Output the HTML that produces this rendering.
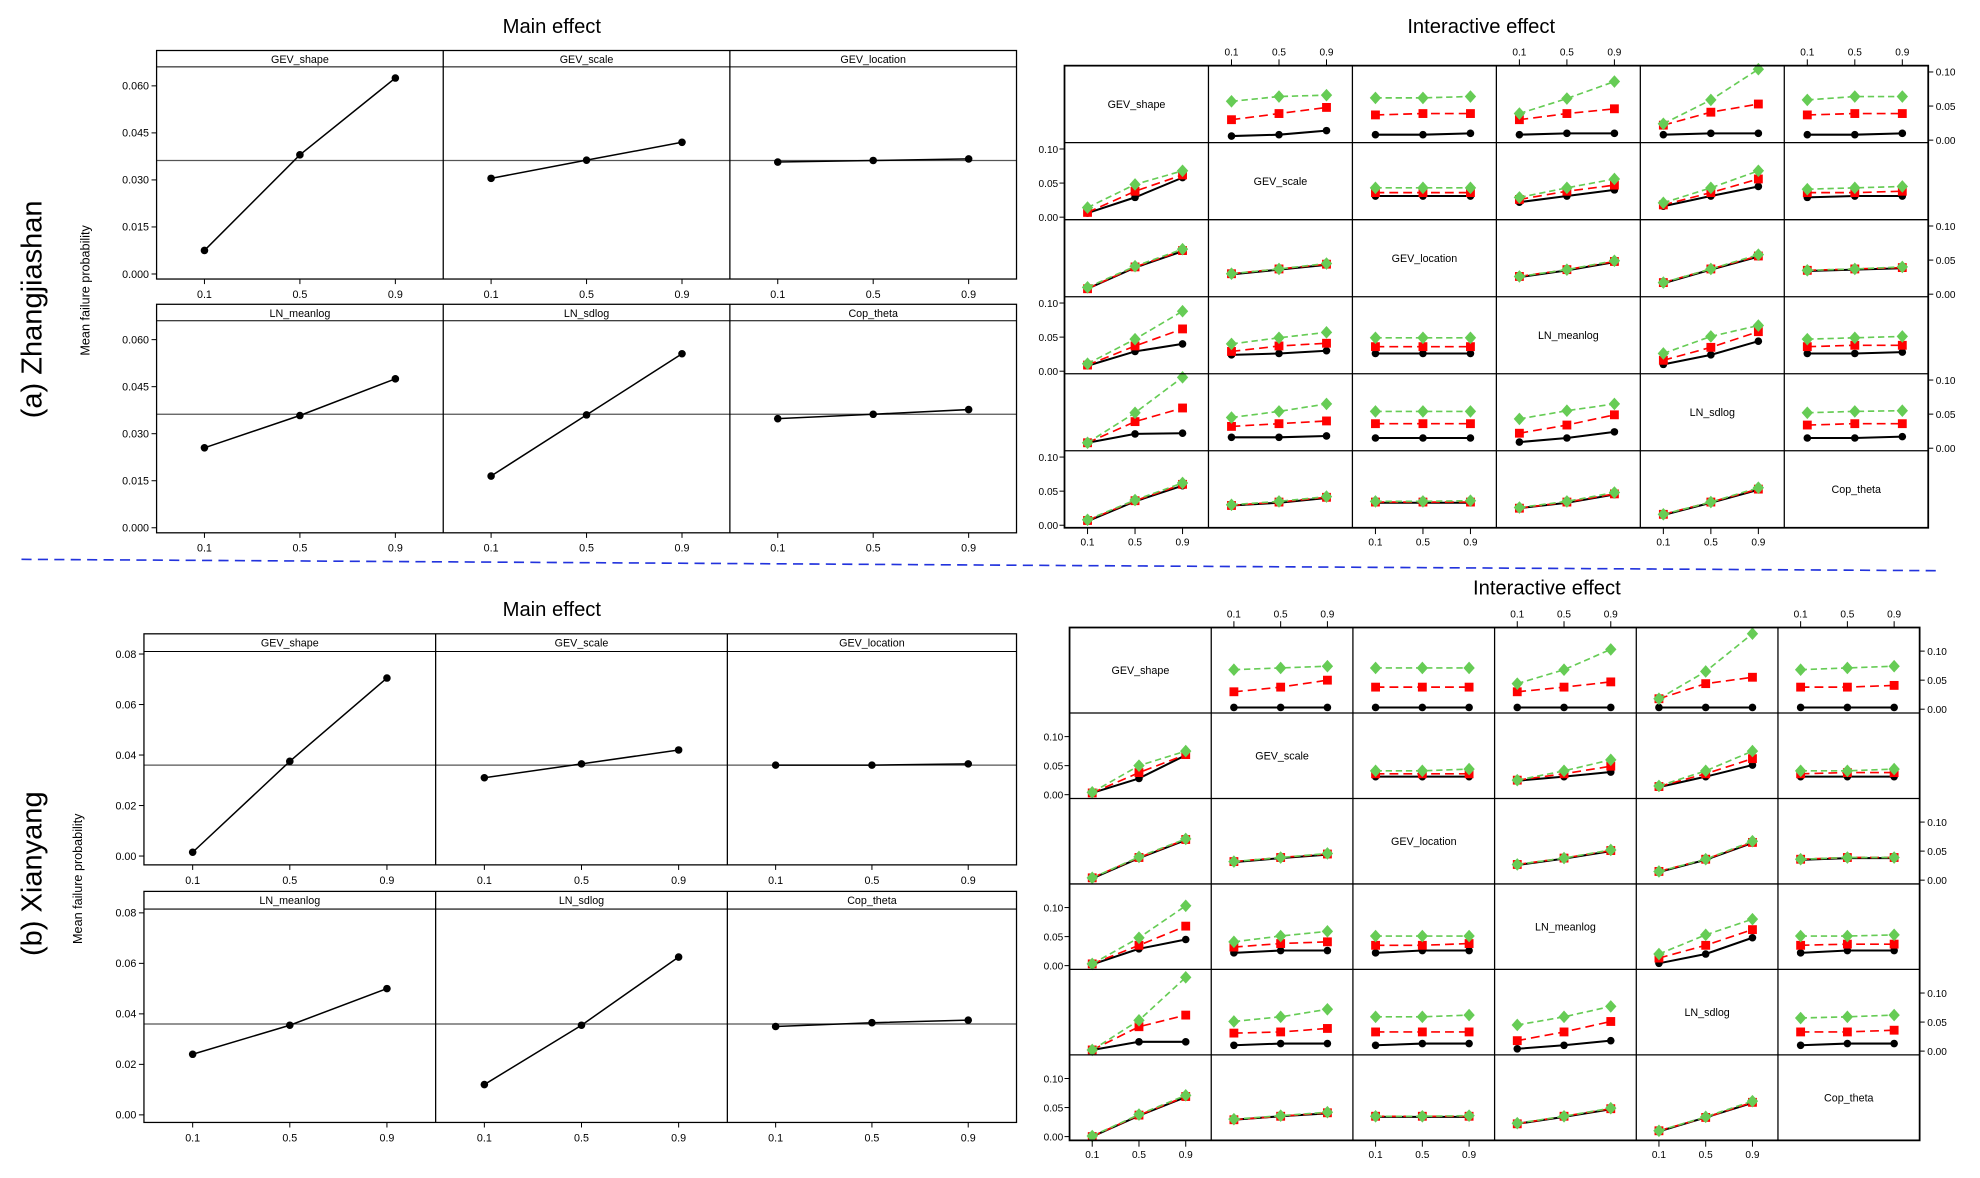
<!DOCTYPE html>
<html><head><meta charset="utf-8"><style>
html,body{margin:0;padding:0;background:#fff;}
svg{display:block;font-family:"Liberation Sans",sans-serif;}
</style></head><body>
<svg id="fig" width="1980" height="1178" viewBox="0 0 1568 933" preserveAspectRatio="none" xmlns="http://www.w3.org/2000/svg">
<rect x="0" y="0" width="1568" height="933" fill="#fff"/>
<text x="437" y="26" font-size="16" text-anchor="middle">Main effect</text>
<text x="1173" y="26" font-size="16" text-anchor="middle">Interactive effect</text>
<text x="437" y="488" font-size="16" text-anchor="middle">Main effect</text>
<text x="1225" y="471" font-size="16" text-anchor="middle">Interactive effect</text>
<text transform="translate(33,245) rotate(-90)" font-size="23" text-anchor="middle">(a) Zhangjiashan</text>
<text transform="translate(33,692) rotate(-90)" font-size="23" text-anchor="middle">(b) Xianyang</text>
<text transform="translate(71,230) rotate(-90)" font-size="10" text-anchor="middle">Mean failure probability</text>
<text transform="translate(65,696) rotate(-90)" font-size="10" text-anchor="middle">Mean failure probability</text>
<line x1="17" y1="443" x2="1535" y2="452" stroke="#2233dd" stroke-width="1.3" stroke-dasharray="8,5"/>
<g id="layer"></g>
</svg>
<script>
const factors = ["GEV_shape","GEV_scale","GEV_location","LN_meanlog","LN_sdlog","Cop_theta"];
const levels = ["0.1","0.5","0.9"];
const mainValsA = [[0.0075,0.038,0.0625],[0.0305,0.0363,0.042],[0.0357,0.0362,0.0367],[0.0255,0.0358,0.0475],[0.0165,0.036,0.0555],[0.0348,0.0362,0.0377]];
const mainMeanA = 0.0362;
const mainTicksA = ["0.000","0.015","0.030","0.045","0.060"];
const mainValsB = [[0.0015,0.0375,0.0705],[0.031,0.0365,0.042],[0.036,0.036,0.0365],[0.024,0.0355,0.05],[0.012,0.0355,0.0625],[0.035,0.0365,0.0375]];
const mainMeanB = 0.036;
const mainTicksB = ["0.00","0.02","0.04","0.06","0.08"];
const interTicks = ["0.00","0.05","0.10"];
const interA = {
"1,2":[[.006,.008,.014],[.030,.039,.048],[.057,.064,.066]],
"1,3":[[.008,.008,.010],[.037,.039,.039],[.062,.062,.064]],
"1,4":[[.008,.010,.010],[.030,.039,.046],[.039,.061,.086]],
"1,5":[[.008,.010,.010],[.022,.041,.053],[.024,.059,.104]],
"1,6":[[.008,.008,.010],[.037,.039,.039],[.059,.064,.064]],
"2,1":[[.006,.029,.058],[.007,.038,.062],[.014,.048,.068]],
"2,3":[[.031,.031,.031],[.036,.036,.036],[.043,.043,.043]],
"2,4":[[.022,.031,.040],[.026,.038,.047],[.029,.043,.056]],
"2,5":[[.016,.031,.045],[.018,.036,.056],[.021,.043,.068]],
"2,6":[[.029,.031,.031],[.036,.036,.038],[.041,.043,.045]],
"3,1":[[.008,.039,.063],[.008,.040,.064],[.010,.041,.066]],
"3,2":[[.029,.036,.043],[.030,.037,.044],[.030,.037,.045]],
"3,4":[[.025,.035,.047],[.026,.036,.048],[.026,.036,.049]],
"3,5":[[.016,.036,.055],[.017,.037,.056],[.017,.037,.058]],
"3,6":[[.034,.036,.038],[.035,.037,.039],[.035,.037,.040]],
"4,1":[[.008,.029,.040],[.009,.037,.062],[.011,.047,.088]],
"4,2":[[.024,.026,.030],[.029,.037,.041],[.040,.049,.057]],
"4,3":[[.026,.026,.026],[.036,.036,.036],[.049,.049,.049]],
"4,5":[[.010,.024,.044],[.016,.035,.058],[.026,.051,.067]],
"4,6":[[.026,.026,.028],[.036,.038,.038],[.047,.049,.051]],
"5,1":[[.008,.021,.022],[.008,.039,.059],[.008,.052,.104]],
"5,2":[[.016,.016,.018],[.032,.036,.040],[.045,.054,.065]],
"5,3":[[.015,.015,.015],[.036,.036,.036],[.054,.054,.054]],
"5,4":[[.009,.015,.024],[.022,.034,.049],[.043,.055,.065]],
"5,6":[[.015,.015,.017],[.034,.036,.036],[.052,.054,.055]],
"6,1":[[.006,.035,.058],[.007,.036,.060],[.008,.037,.062]],
"6,2":[[.029,.033,.040],[.029,.034,.041],[.030,.035,.042]],
"6,3":[[.033,.033,.033],[.034,.034,.034],[.035,.035,.036]],
"6,4":[[.025,.033,.045],[.025,.034,.046],[.026,.035,.048]],
"6,5":[[.015,.033,.052],[.016,.034,.053],[.016,.034,.055]]
};
const interB = {
"1,2":[[.003,.003,.003],[.030,.038,.050],[.068,.071,.074]],
"1,3":[[.003,.003,.003],[.038,.038,.038],[.071,.071,.071]],
"1,4":[[.003,.003,.003],[.030,.038,.047],[.044,.068,.103]],
"1,5":[[.003,.003,.003],[.018,.044,.055],[.018,.065,.130]],
"1,6":[[.003,.003,.003],[.038,.038,.041],[.068,.071,.074]],
"2,1":[[.003,.028,.068],[.003,.038,.069],[.004,.050,.075]],
"2,3":[[.031,.031,.031],[.036,.036,.036],[.041,.041,.044]],
"2,4":[[.024,.031,.039],[.025,.036,.049],[.025,.041,.060]],
"2,5":[[.013,.031,.051],[.014,.036,.062],[.015,.041,.075]],
"2,6":[[.031,.031,.031],[.036,.038,.038],[.041,.041,.044]],
"3,1":[[.003,.038,.069],[.004,.039,.070],[.004,.040,.071]],
"3,2":[[.031,.038,.044],[.032,.039,.045],[.032,.039,.046]],
"3,4":[[.026,.037,.050],[.027,.038,.051],[.027,.038,.052]],
"3,5":[[.014,.035,.064],[.015,.036,.065],[.015,.036,.067]],
"3,6":[[.035,.038,.038],[.036,.039,.039],[.036,.039,.039]],
"4,1":[[.002,.029,.045],[.003,.035,.068],[.003,.048,.103]],
"4,2":[[.022,.026,.026],[.032,.038,.041],[.041,.051,.059]],
"4,3":[[.022,.026,.026],[.035,.035,.038],[.051,.051,.051]],
"4,5":[[.004,.020,.048],[.013,.035,.062],[.020,.053,.080]],
"4,6":[[.022,.026,.026],[.035,.037,.037],[.051,.051,.053]],
"5,1":[[.002,.016,.016],[.002,.042,.062],[.002,.053,.127]],
"5,2":[[.010,.013,.013],[.031,.033,.039],[.051,.059,.072]],
"5,3":[[.010,.013,.013],[.033,.033,.033],[.059,.059,.062]],
"5,4":[[.004,.010,.018],[.018,.033,.051],[.045,.059,.077]],
"5,6":[[.010,.013,.013],[.033,.033,.036],[.057,.059,.062]],
"6,1":[[.000,.036,.068],[.000,.037,.069],[.001,.038,.071]],
"6,2":[[.029,.035,.040],[.029,.035,.041],[.030,.036,.042]],
"6,3":[[.034,.034,.034],[.035,.035,.035],[.035,.035,.036]],
"6,4":[[.022,.034,.047],[.022,.035,.048],[.023,.035,.049]],
"6,5":[[.009,.033,.058],[.010,.033,.059],[.010,.034,.061]]
};

const NS = "http://www.w3.org/2000/svg";
const layer = document.getElementById('layer');
function mk(tag, attrs, parent, txt) {
  const e = document.createElementNS(NS, tag);
  for (const k in attrs) e.setAttribute(k, attrs[k]);
  if (txt !== undefined) e.textContent = txt;
  (parent || layer).appendChild(e);
  return e;
}

function mainBlock(tag, vals, mean, ticks, edges, rows) {
  const tMax = parseFloat(ticks[ticks.length-1]);
  for (let r = 0; r < 2; r++) {
    const R = rows[r];
    const ys = v => R.y0 - (v / tMax) * (R.y0 - R.yT);
    const g = mk('g', {});
    
    
    for (let c = 0; c < 3; c++) {
      const x0 = edges[c], x1 = edges[c+1];
      const xs = i => x0 + (x1 - x0) * (0.167 + 0.333 * i);
      const f = r * 3 + c;
      const strip = mk('text', {x:(x0+x1)/2, y:R.st+10, 'font-size':8.5, 'text-anchor':'middle'}, g, factors[f]);
      
      
      mk('line', {x1:x0, x2:x1, y1:R.pt, y2:R.pt, stroke:'#000', 'stroke-width':0.8}, g);
      mk('line', {x1:x0, x2:x1, y1:ys(mean), y2:ys(mean), stroke:'#555', 'stroke-width':1}, g);
      const pts = vals[f].map((v,i) => xs(i) + ',' + ys(v)).join(' ');
      const pl = mk('polyline', {points:pts, fill:'none', stroke:'#000', 'stroke-width':1.2}, g);
      
      
      vals[f].forEach((v,i) => {
        const p = mk('circle', {cx:xs(i), cy:ys(v), r:3, fill:'#000'}, g);
        
        
        mk('line', {x1:xs(i), x2:xs(i), y1:R.pb, y2:R.pb+4, stroke:'#000', 'stroke-width':0.8}, g);
        const tl = mk('text', {x:xs(i), y:R.pb+15, 'font-size':8.5, 'text-anchor':'middle'}, g, levels[i]);
        
        
      });
    }
    mk('rect', {x:edges[0], y:R.st, width:edges[3]-edges[0], height:R.pb-R.st, fill:'none', stroke:'#000', 'stroke-width':1}, g);
    mk('line', {x1:edges[1], x2:edges[1], y1:R.st, y2:R.pb, stroke:'#000', 'stroke-width':1}, g);
    mk('line', {x1:edges[2], x2:edges[2], y1:R.st, y2:R.pb, stroke:'#000', 'stroke-width':1}, g);
    ticks.forEach(t => {
      const y = ys(parseFloat(t));
      mk('line', {x1:edges[0]-4, x2:edges[0], y1:y, y2:y, stroke:'#000', 'stroke-width':0.8}, g);
      const tl = mk('text', {x:edges[0]-6, y:y+3, 'font-size':8.5, 'text-anchor':'end'}, g, t);
      
      
    });
  }
}

mainBlock('a', mainValsA, mainMeanA, mainTicksA, [124,351,578,805], [
  {st:40, pt:53, pb:221, y0:217, yT:68},
  {st:241, pt:254, pb:422, y0:418, yT:269}]);
mainBlock('b', mainValsB, mainMeanB, mainTicksB, [114,345,576,805], [
  {st:502, pt:516, pb:685, y0:678, yT:518},
  {st:706, pt:720, pb:889, y0:883, yT:723}]);

function interGrid(tag, data, X0, cw, Y0, rh, zoff, scale) {
  const g = mk('g', {});
  
  
  const colors = ['#000', '#ff0000', '#66cc55'];
  const dashes = ['', '7,4', '5,3'];
  for (let r = 1; r <= 6; r++) {
    for (let c = 1; c <= 6; c++) {
      const cx0 = X0 + (c-1)*cw, cy0 = Y0 + (r-1)*rh;
      const zeroY = cy0 + rh - zoff;
      const ys = v => zeroY - v * scale;
      const xs = i => cx0 + cw * [0.16, 0.49, 0.82][i];
      if (r === c) {
        const t = mk('text', {x:cx0+cw/2, y:cy0+rh/2+3, 'font-size':8.5, 'text-anchor':'middle'}, g, factors[r-1]);
        
        
        continue;
      }
      const series = data[r + ',' + c];
      series.forEach((vals, s) => {
        const pts = vals.map((v,i) => xs(i) + ',' + ys(v)).join(' ');
        const pl = mk('polyline', {points:pts, fill:'none', stroke:colors[s], 'stroke-width':s===0?1.6:1.3}, g);
        if (dashes[s]) pl.setAttribute('stroke-dasharray', dashes[s]);
        
        
        vals.forEach((v,i) => {
          let m;
          const x = xs(i), y = ys(v);
          if (s === 0) m = mk('circle', {cx:x, cy:y, r:3, fill:'#000'}, g);
          else if (s === 1) m = mk('rect', {x:x-3.5, y:y-3.5, width:7, height:7, fill:'#ff0000'}, g);
          else m = mk('polygon', {points:`${x},${y-5} ${x+4.5},${y} ${x},${y+5} ${x-4.5},${y}`, fill:'#66cc55'}, g);
          
          
        });
      });
    }
  }
  // grid lines
  mk('rect', {x:X0, y:Y0, width:cw*6, height:rh*6, fill:'none', stroke:'#000', 'stroke-width':1.4}, g);
  for (let k = 1; k < 6; k++) {
    mk('line', {x1:X0+k*cw, x2:X0+k*cw, y1:Y0, y2:Y0+6*rh, stroke:'#000', 'stroke-width':1}, g);
    mk('line', {x1:X0, x2:X0+6*cw, y1:Y0+k*rh, y2:Y0+k*rh, stroke:'#000', 'stroke-width':1}, g);
  }
  // x axes
  for (let c = 1; c <= 6; c++) {
    const cx0 = X0 + (c-1)*cw;
    const top = (c % 2 === 0);
    [0,1,2].forEach(i => {
      const x = cx0 + cw * [0.16, 0.49, 0.82][i];
      const yb = top ? Y0 : Y0 + 6*rh;
      mk('line', {x1:x, x2:x, y1:yb, y2:top ? yb-5 : yb+5, stroke:'#000', 'stroke-width':0.8}, g);
      const t = mk('text', {x:x, y:top ? yb-8 : yb+14, 'font-size':8, 'text-anchor':'middle'}, g, levels[i]);
      
      
    });
  }
  // y axes
  for (let r = 1; r <= 6; r++) {
    const zeroY = Y0 + r*rh - zoff;
    const left = (r % 2 === 0);
    interTicks.forEach(t => {
      const y = zeroY - parseFloat(t) * scale;
      const xb = left ? X0 : X0 + 6*cw;
      mk('line', {x1:xb, x2:left ? xb-4 : xb+4, y1:y, y2:y, stroke:'#000', 'stroke-width':0.8}, g);
      const tl = mk('text', {x:left ? xb-5 : xb+6, y:y+3, 'font-size':8, 'text-anchor':left?'end':'start'}, g, t);
      
      
    });
  }
}
interGrid('a', interA, 843, 114, 52, 61, 2, 540);
interGrid('b', interB, 847, 112.2, 497, 67.7, 3, 460);
</script>
</body></html>
